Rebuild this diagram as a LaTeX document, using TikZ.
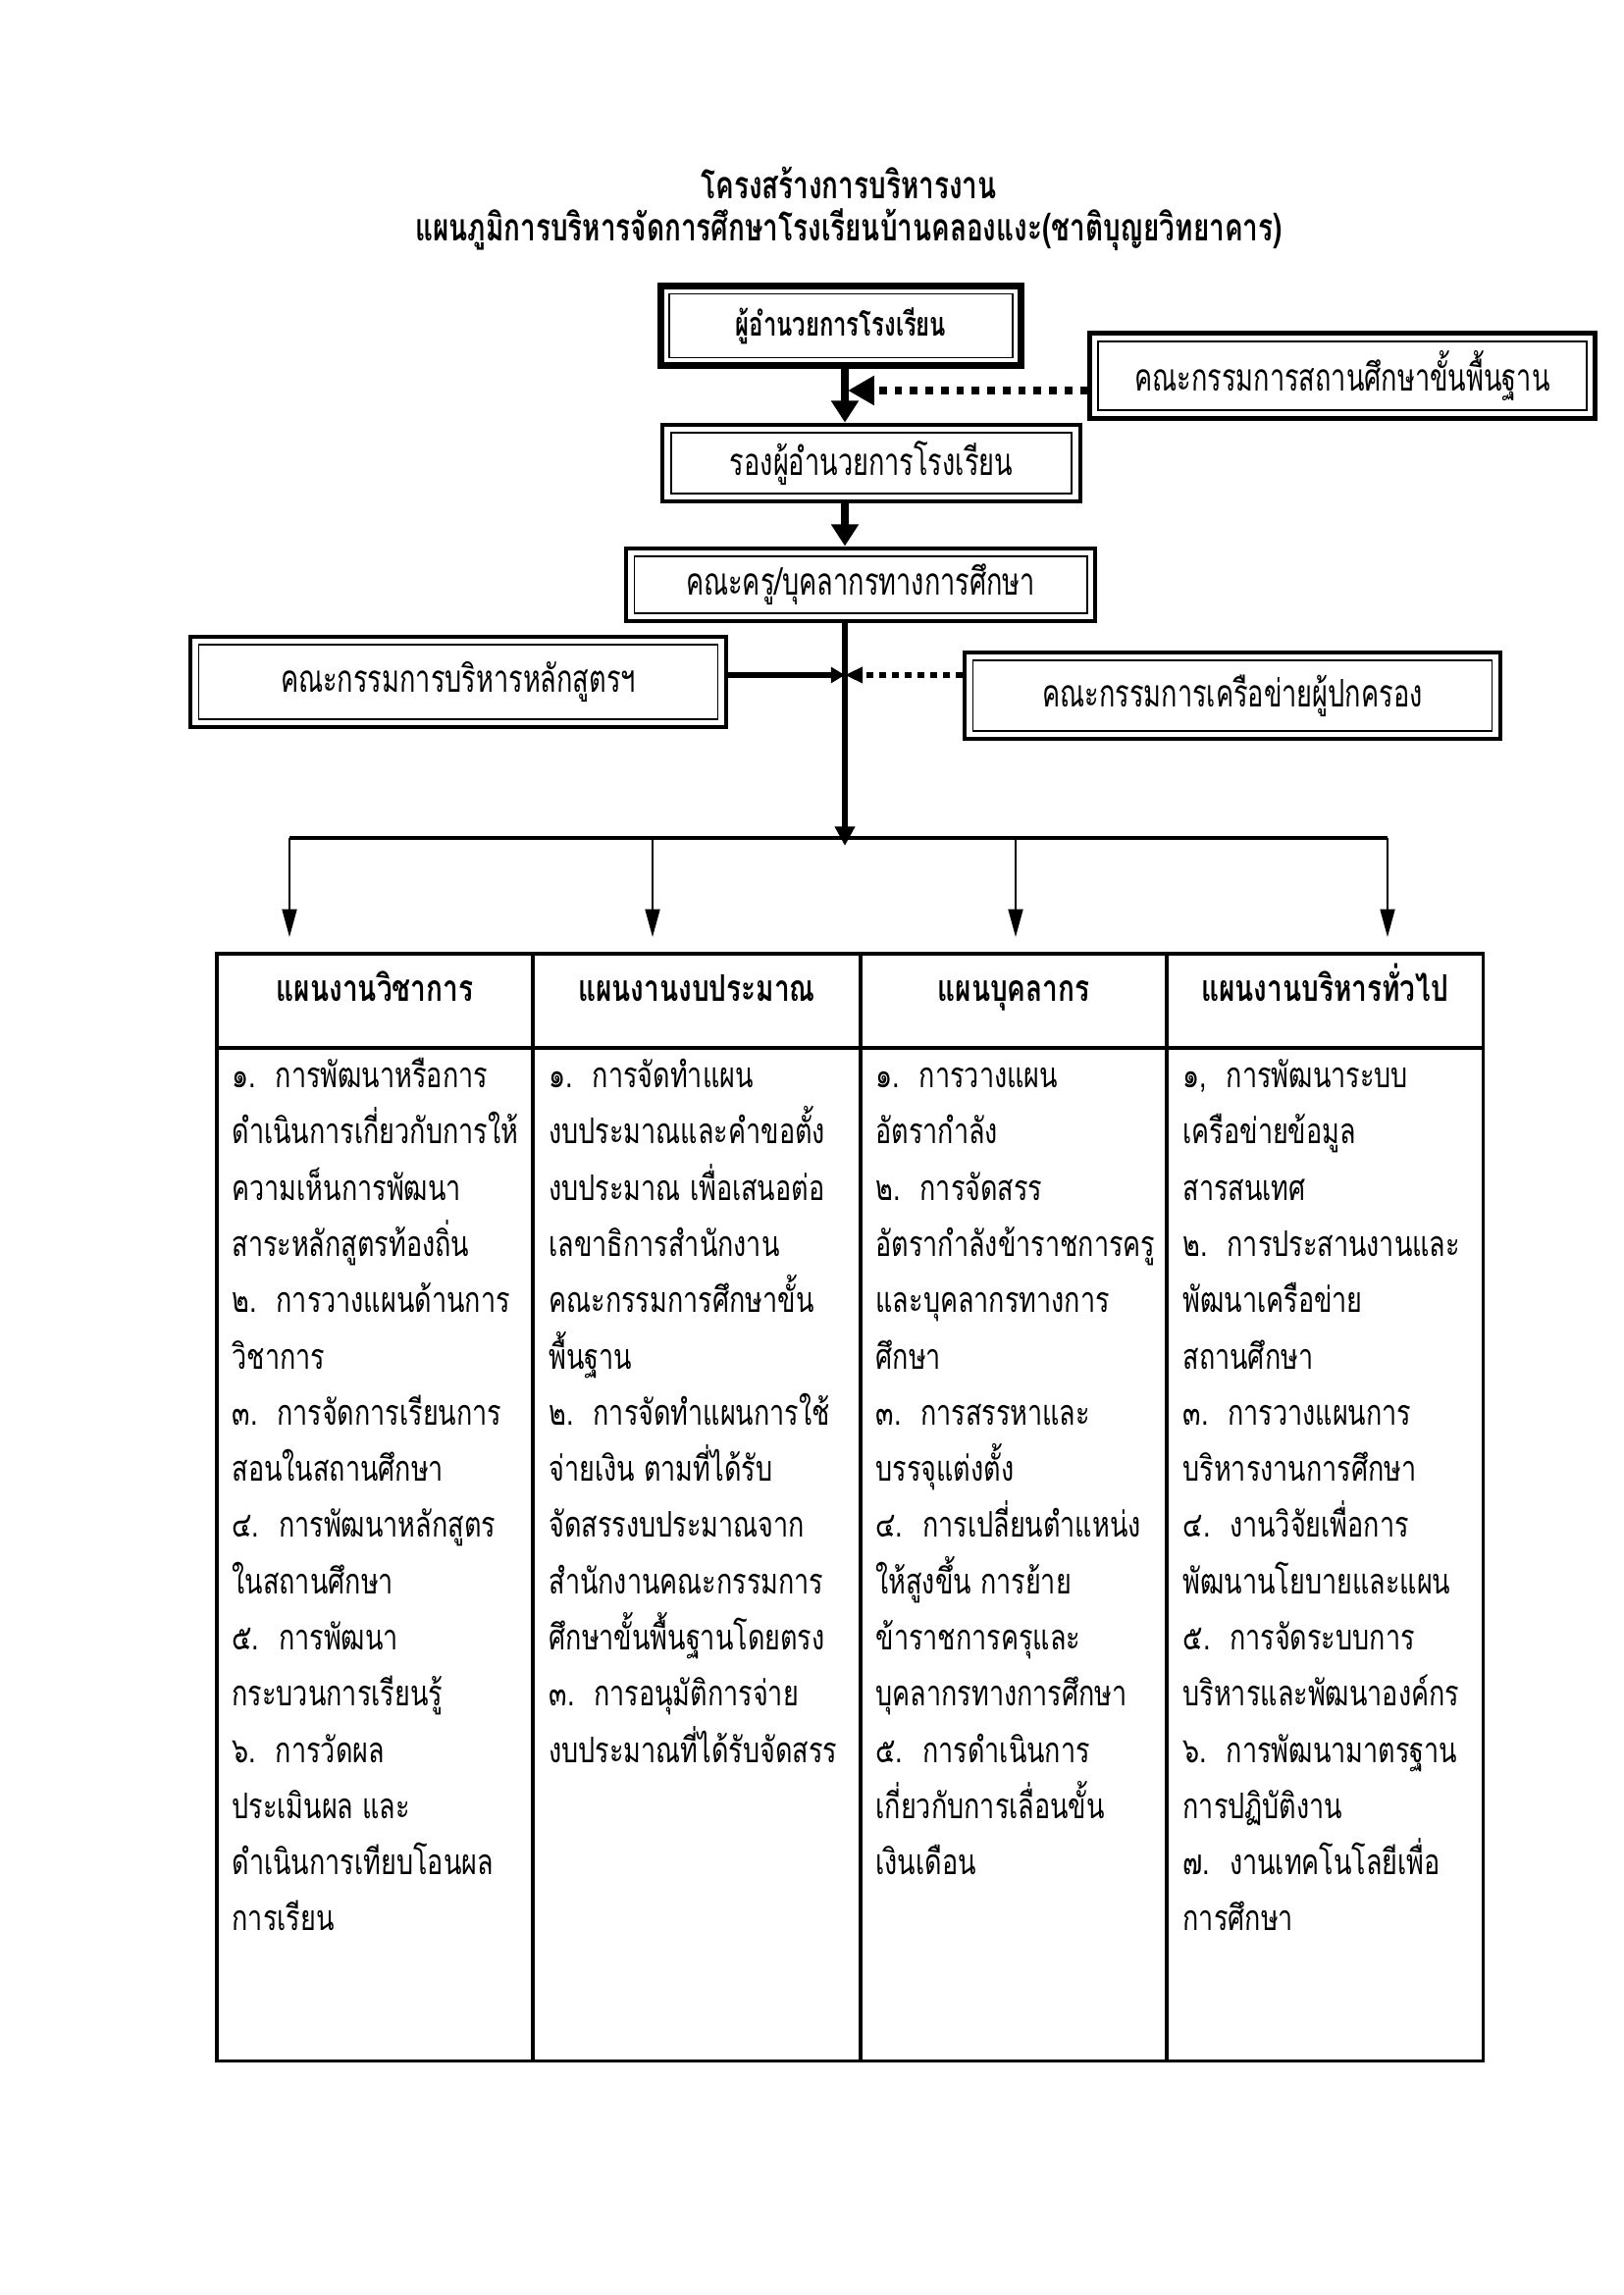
\documentclass[tikz,border=0pt]{standalone}
\usepackage{fontspec}
\newfontfamily\thfont[Script=Thai,FakeStretch=0.75]{Loma}
\newfontfamily\thbox[Script=Thai,FakeStretch=0.7]{Loma}
\newfontfamily\thtitle[Script=Thai,FakeStretch=0.72]{Loma}
\usetikzlibrary{arrows.meta}

\begin{document}
\begin{tikzpicture}[x=0.127mm,y=-0.127mm,
  font=\thfont,
  dbox/.style={draw,line width=1.5pt,align=center,inner sep=0pt,
    font=\thbox\fontsize{14}{16}\selectfont,
    path picture={\draw[line width=0.6pt]
      ([shift={(3pt,3pt)}]path picture bounding box.south west) rectangle
      ([shift={(-3pt,-3pt)}]path picture bounding box.north east);}},
  bigarr/.style={-{Triangle[length=2.8mm,width=3.4mm]},line width=2.9pt},
  dasharr/.style={-{Triangle[length=3.4mm,width=3.6mm]},line width=3.2pt,
    dash pattern=on 1mm off 1mm},
  sidearr/.style={-{Triangle[length=1.8mm,width=2mm]},line width=2.5pt},
  sidedash/.style={-{Triangle[length=2.3mm,width=2mm]},line width=2.5pt,
    dash pattern=on 0.9mm off 0.75mm},
  thinarr/.style={-{Triangle[length=3.6mm,width=1.9mm]},line width=0.7pt},
  head/.style={anchor=base,font=\thfont\bfseries\fontsize{13.5}{16}\selectfont},
  body/.style={anchor=north west,align=left,inner sep=0pt,
    font=\thfont\fontsize{13}{20.7}\selectfont},
  tline/.style={line width=1.1pt}
]
\useasboundingbox (0,0) rectangle (1654,2339);

% titles
\node[font=\thtitle\bfseries\fontsize{14}{17}\selectfont] (t1) at (865,186) {โครงสร้างการบริหารงาน};
\node[font=\thtitle\bfseries\fontsize{14}{17}\selectfont] (t2) at (865,234) {แผนภูมิการบริหารจัดการศึกษาโรงเรียนบ้านคลองแงะ(ชาติบุญยวิทยาคาร)};

% chain of command
\coordinate (spine) at (861,0);
\node[dbox,line width=2.5pt,font=\thbox\bfseries\fontsize{12.3}{15}\selectfont,
  minimum width=46.5mm,minimum height=10.4mm] (dir) at (857,332) {ผู้อำนวยการโรงเรียน};
\node[dbox,minimum width=65.4mm,minimum height=11.05mm] (board) at (1368,383) {คณะกรรมการสถานศึกษาขั้นพื้นฐาน};
\node[dbox,minimum width=54mm,minimum height=10mm] (dep) at (888,472) {รองผู้อำนวยการโรงเรียน};
\node[dbox,minimum width=60.7mm,minimum height=9.5mm] (staff) at (877,596) {คณะครู/บุคลากรทางการศึกษา};
\node[dbox,minimum width=69.3mm,minimum height=11.7mm] (curr) at (467,695) {คณะกรรมการบริหารหลักสูตรฯ};
\node[dbox,minimum width=69.3mm,minimum height=11.2mm] (parent) at (1256,709) {คณะกรรมการเครือข่ายผู้ปกครอง};

\draw[bigarr] (dir.south -| spine) -- (dep.north -| spine);
\draw[bigarr] (dep.south -| spine) -- (staff.north -| spine);
\coordinate (j1) at (864,398);
\draw[dasharr] (j1 -| board.west) -- (j1);
\coordinate (j2) at (861,688);
\draw[sidearr] (j2 -| curr.east) -- (j2);
\draw[sidedash] (j2 -| parent.west) -- (j2);

% branches
\coordinate (barL) at (295,854);
\coordinate (barR) at (1414,854);
\coordinate (hub) at (861,862);
\draw[line width=2.4pt,-{Triangle[length=2.5mm,width=2.5mm]}] (staff.south -| spine) -- (hub);
\draw[line width=1.8pt] (barL) -- (barR);
\foreach \x [count=\i] in {295,665,1035,1414}{
  \coordinate (b\i) at (\x,854);
  \coordinate (e\i) at (\x,955);
  \draw[thinarr] (b\i) -- (e\i);
}

% table
\draw[tline] (221,972) rectangle (1511,2100);
\draw[line width=1.5pt] (221,1068) -- (1511,1068);
\foreach \x in {543,877,1189} \draw[tline] (\x,972) -- (\x,2100);

\node[head] (h1) at (382,1020) {แผนงานวิชาการ};
\node[head] (h2) at (710,1020) {แผนงานงบประมาณ};
\node[head] (h3) at (1033,1020) {แผนบุคลากร};
\node[head] (h4) at (1350,1020) {แผนงานบริหารทั่วไป};

\node[body] (c1) at (236,1068) {\strut ๑.\hspace{2.5mm}การพัฒนาหรือการ\\
ดำเนินการเกี่ยวกับการให้\\
ความเห็นการพัฒนา\\
สาระหลักสูตรท้องถิ่น\\
๒.\hspace{2.5mm}การวางแผนด้านการ\\
วิชาการ\\
๓.\hspace{2.5mm}การจัดการเรียนการ\\
สอนในสถานศึกษา\\
๔.\hspace{2.5mm}การพัฒนาหลักสูตร\\
ในสถานศึกษา\\
๕.\hspace{2.5mm}การพัฒนา\\
กระบวนการเรียนรู้\\
๖.\hspace{2.5mm}การวัดผล\\
ประเมินผล และ\\
ดำเนินการเทียบโอนผล\\
การเรียน};

\node[body] (c2) at (559,1068) {\strut ๑.\hspace{2.5mm}การจัดทำแผน\\
งบประมาณและคำขอตั้ง\\
งบประมาณ เพื่อเสนอต่อ\\
เลขาธิการสำนักงาน\\
คณะกรรมการศึกษาขั้น\\
พื้นฐาน\\
๒.\hspace{2.5mm}การจัดทำแผนการใช้\\
จ่ายเงิน ตามที่ได้รับ\\
จัดสรรงบประมาณจาก\\
สำนักงานคณะกรรมการ\\
ศึกษาขั้นพื้นฐานโดยตรง\\
๓.\hspace{2.5mm}การอนุมัติการจ่าย\\
งบประมาณที่ได้รับจัดสรร};

\node[body] (c3) at (892,1068) {\strut ๑.\hspace{2.5mm}การวางแผน\\
อัตรากำลัง\\
๒.\hspace{2.5mm}การจัดสรร\\
อัตรากำลังข้าราชการครู\\
และบุคลากรทางการ\\
ศึกษา\\
๓.\hspace{2.5mm}การสรรหาและ\\
บรรจุแต่งตั้ง\\
๔.\hspace{2.5mm}การเปลี่ยนตำแหน่ง\\
ให้สูงขึ้น การย้าย\\
ข้าราชการครุและ\\
บุคลากรทางการศึกษา\\
๕.\hspace{2.5mm}การดำเนินการ\\
เกี่ยวกับการเลื่อนขั้น\\
เงินเดือน};

\node[body] (c4) at (1205,1068) {\strut ๑,\hspace{2.5mm}การพัฒนาระบบ\\
เครือข่ายข้อมูล\\
สารสนเทศ\\
๒.\hspace{2.5mm}การประสานงานและ\\
พัฒนาเครือข่าย\\
สถานศึกษา\\
๓.\hspace{2.5mm}การวางแผนการ\\
บริหารงานการศึกษา\\
๔.\hspace{2.5mm}งานวิจัยเพื่อการ\\
พัฒนานโยบายและแผน\\
๕.\hspace{2.5mm}การจัดระบบการ\\
บริหารและพัฒนาองค์กร\\
๖.\hspace{2.5mm}การพัฒนามาตรฐาน\\
การปฏิบัติงาน\\
๗.\hspace{2.5mm}งานเทคโนโลยีเพื่อ\\
การศึกษา};
\end{tikzpicture}
\end{document}
